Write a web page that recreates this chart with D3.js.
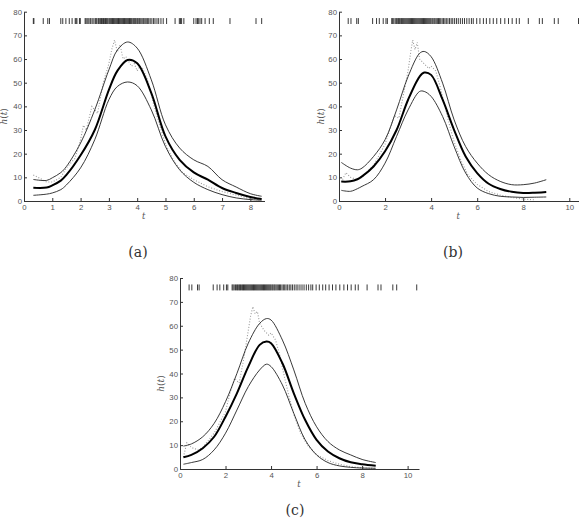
<!DOCTYPE html>
<html lang="en">
<head>
    <meta charset="UTF-8">
    <title>h(t)</title>
    <script src="https://d3js.org/d3.v7.min.js"></script>
    <style>
        body { margin: 0; background: #fff; }
        .tick text { font-family: "Liberation Sans", Arial, sans-serif; font-size: 7.8px; fill: #555; }
        .tick line, .domain { stroke: #333; }
    </style>
</head>
<body>

<svg width="579" height="527"></svg>

<script>

    // panel (a)
    var tA   = [0.33, 0.8, 1.0, 1.3, 1.5, 2.0, 2.5, 3.0, 3.3, 3.66, 4.0, 4.5, 5.0, 5.5, 6.0, 6.5, 7.0, 7.5, 8.0, 8.4];
    var midA = [5.6, 5.7, 6.6, 8.6, 11, 19.3, 30, 47, 55, 59.6, 58.2, 45.6, 27.3, 17.4, 12.1, 9, 5.5, 3.4, 1.7, 0.8];
    var upA  = [9.1, 8.7, 9.8, 12, 14.6, 24.5, 38.5, 55.4, 63.8, 67.2, 64.6, 51.2, 32.2, 22.4, 17.4, 14.6, 9, 5.9, 3.1, 2];
    var loA  = [2.4, 2.9, 3.4, 4.8, 6.8, 14, 25.9, 42.8, 48.4, 50.3, 48.7, 38.5, 23, 13.2, 7.9, 4.8, 2.7, 1.3, 0.6, 0.3];
    var rawTA = [0.33, 0.5, 0.8, 1.0, 1.3, 1.5, 1.8, 2.0, 2.1, 2.2, 2.4, 2.6, 2.8, 3.0, 3.1, 3.2, 3.3, 3.4, 3.5, 3.6, 3.8, 3.9, 4.0, 4.1, 4.2, 4.4, 4.6, 4.8, 5.0, 5.3, 5.6, 6.0, 6.5, 7.0, 7.5, 8.0, 8.4];
    var rawA  = [11, 10, 8, 8, 10, 14, 18, 26, 32, 30, 40, 37, 50, 58, 64, 68, 63, 66, 60, 61, 57, 58, 55, 57, 56, 50, 40, 32, 24, 17, 12, 9, 6, 4, 2.5, 1, 0.5];
    var rugA = [0.33, 0.35, 0.68, 0.84, 0.9, 1.30, 1.37, 1.48, 1.60, 1.70, 1.81, 1.84, 1.87, 1.96, 1.99,
        2.16, 2.19, 2.23, 2.27, 2.33, 2.36, 2.41, 2.47, 2.52, 2.55, 2.58, 2.63, 2.66, 2.70, 2.74, 2.77, 2.81,
        2.84, 2.88, 2.91, 2.94, 2.97, 3.01, 3.04, 3.07, 3.10, 3.13, 3.16, 3.19, 3.22, 3.25, 3.28, 3.31, 3.34,
        3.37, 3.40, 3.43, 3.46, 3.49, 3.52, 3.55, 3.58, 3.61, 3.64, 3.67, 3.70, 3.73, 3.76, 3.79, 3.82, 3.86,
        3.89, 3.92, 3.95, 3.99, 4.02, 4.06, 4.09, 4.13, 4.17, 4.21, 4.24, 4.28, 4.32, 4.37, 4.41, 4.46, 4.52,
        4.58, 4.63, 4.70, 4.76, 4.84, 4.92, 5.04, 5.34, 5.49, 5.53, 5.57, 5.65, 6.0, 6.08, 6.13, 6.16, 6.22,
        6.28, 6.4, 6.55, 6.69, 7.28, 8.2, 8.4];

    // panel (b)
    var tB   = [0.1, 0.5, 0.8, 1.0, 1.5, 2.0, 2.5, 3.0, 3.5, 3.7, 4.0, 4.5, 5.0, 5.5, 6.0, 6.5, 7.0, 7.5, 8.0, 8.5, 9.0];
    var midB = [8.2, 8.3, 9.2, 10.4, 14.6, 21, 30, 42.8, 52.6, 54.3, 53.3, 42.8, 30, 18.8, 11.8, 7.3, 5.1, 3.9, 3.4, 3.5, 3.8];
    var upB  = [16.3, 13.9, 13.2, 13.9, 18.8, 25.9, 38.5, 52.6, 62.4, 63.2, 61, 49.8, 34.3, 23, 16, 11.1, 8.3, 6.9, 6.9, 7.6, 9];
    var loB  = [4.5, 4.1, 5.2, 6.2, 9, 16, 27.3, 38.5, 46.3, 46.3, 44.2, 35.7, 23, 11.8, 5.5, 3.1, 2, 1.7, 1.5, 1.6, 1.7];
    var rawTB = [0.1, 0.3, 0.5, 0.8, 1.0, 1.5, 2.0, 2.2, 2.4, 2.6, 2.8, 3.0, 3.1, 3.2, 3.3, 3.4, 3.5, 3.7, 3.9, 4.0, 4.2, 4.4, 4.6, 4.8, 5.0, 5.3, 5.6, 6.0, 6.5, 7.0, 7.5, 8.0, 8.5];
    var rawB  = [8, 12, 10, 9, 10, 15, 24, 30, 36, 35, 45, 55, 62, 68, 64, 67, 60, 58, 56, 57, 55, 48, 40, 32, 25, 17, 11, 7, 4, 2.5, 1.5, 0.8, 0.5];

    // panel (c)
    var tC   = [0.15, 0.5, 1.0, 1.5, 2.0, 2.5, 3.0, 3.5, 3.8, 4.0, 4.5, 5.0, 5.5, 6.0, 6.5, 7.0, 7.5, 8.0, 8.6];
    var midC = [4.9, 5.9, 8.7, 13.5, 21.9, 31.7, 42.9, 52, 53.4, 52.7, 44.3, 31.7, 20.5, 12.2, 7.3, 4.5, 2.8, 2, 1.4];
    var upC  = [9.6, 10.5, 13.5, 19.1, 28.2, 40, 52.7, 61, 63, 62.4, 54, 41.5, 27.5, 17.7, 11.5, 8, 5.9, 4, 2.7];
    var loC  = [2, 2.7, 4, 8, 15, 24.7, 34.5, 41.5, 43.9, 42.9, 35.2, 23.3, 12.2, 5.9, 2.7, 1.3, 0.7, 0.4, 0.3];
    var rawTC = [0.15, 0.3, 0.5, 0.8, 1.0, 1.5, 2.0, 2.2, 2.4, 2.6, 2.8, 3.0, 3.1, 3.2, 3.3, 3.4, 3.5, 3.7, 3.9, 4.0, 4.2, 4.4, 4.6, 4.8, 5.0, 5.3, 5.6, 6.0, 6.5, 7.0, 7.5, 8.0, 8.6];
    var rawC  = [5, 11, 9, 8, 9, 15, 24, 32, 38, 36, 46, 58, 64, 68, 65, 66, 61, 58, 56, 57, 54, 47, 38, 30, 23, 15, 10, 6, 3.5, 2, 1, 0.5, 0.3];

    // event times shown as rug, panels (b) and (c)
    var rugBC = [0.4, 0.52, 0.77, 0.84, 1.46, 1.63, 1.75, 1.92, 2.04, 2.1, 2.29, 2.33, 2.38, 2.44, 2.49, 2.53,
        2.58, 2.62, 2.66, 2.71, 2.75, 2.79, 2.83, 2.87, 2.91, 2.95, 2.99, 3.03, 3.07, 3.11, 3.15, 3.19, 3.23,
        3.27, 3.31, 3.35, 3.39, 3.43, 3.47, 3.51, 3.55, 3.59, 3.63, 3.67, 3.71, 3.75, 3.79, 3.83, 3.87, 3.91,
        3.95, 3.99, 4.04, 4.08, 4.13, 4.17, 4.22, 4.27, 4.32, 4.37, 4.42, 4.48, 4.54, 4.6, 4.66, 4.73, 4.8,
        4.87, 4.94, 5.02, 5.1, 5.18, 5.27, 5.36, 5.45, 5.55, 5.65, 5.75, 5.83, 5.98, 6.12, 6.27, 6.4, 6.55,
        6.7, 6.85, 7.02, 7.2, 7.36, 7.52, 7.7, 7.83, 8.22, 8.7, 8.83, 9.35, 9.52, 10.4];

    var yTicks = [0, 10, 20, 30, 40, 50, 60, 70, 80];
    var xTicksA = [0, 1, 2, 3, 4, 5, 6, 7, 8];
    var xTicksBC = [0, 2, 4, 6, 8, 10];

    var svg = d3.select('svg');

    function panel(o) {
        var g = svg.append('g').attr('transform', 'translate(' + o.x + ',' + o.y + ')');
        var x = d3.scaleLinear().domain([0, o.xmax]).range([0, o.w]);
        var y = d3.scaleLinear().domain([0, 80]).range([o.h, 0]);

        // axes, ticks pointing inward
        g.append('g').attr('transform', 'translate(0,' + o.h + ')')
            .call(d3.axisBottom(x).tickValues(o.xticks).tickSizeInner(-3).tickSizeOuter(0).tickPadding(3));
        g.append('g')
            .call(d3.axisLeft(y).tickValues(yTicks).tickSizeInner(-3).tickSizeOuter(0).tickPadding(2));

        // rug of event times
        g.selectAll('line.rug').data(o.rug).enter().append('line')
            .attr('class', 'rug')
            .attr('x1', function (d) { return x(d); })
            .attr('x2', function (d) { return x(d); })
            .attr('y1', y(74.8)).attr('y2', y(77.3))
            .attr('stroke', '#222').attr('stroke-width', 0.9);

        var line = d3.line()
            .x(function (d) { return x(d[0]); })
            .y(function (d) { return y(d[1]); })
            .curve(d3.curveCatmullRom);

        var raw = d3.line()
            .x(function (d) { return x(d[0]); })
            .y(function (d) { return y(d[1]); });

        g.append('path').datum(d3.zip(o.rawT, o.raw)).attr('d', raw)
            .attr('fill', 'none').attr('stroke', '#999').attr('stroke-width', 1.1)
            .attr('stroke-dasharray', '1,1.8');
        g.append('path').datum(d3.zip(o.t, o.up)).attr('d', line)
            .attr('fill', 'none').attr('stroke', '#222').attr('stroke-width', 0.9);
        g.append('path').datum(d3.zip(o.t, o.lo)).attr('d', line)
            .attr('fill', 'none').attr('stroke', '#222').attr('stroke-width', 0.9);
        g.append('path').datum(d3.zip(o.t, o.mid)).attr('d', line)
            .attr('fill', 'none').attr('stroke', '#000').attr('stroke-width', 2);

        // axis titles
        g.append('text').attr('x', o.w / 2 - 0.5).attr('y', o.h + 18)
            .attr('text-anchor', 'middle')
            .style('font-family', '"DejaVu Serif", serif').style('font-style', 'italic')
            .style('font-size', '8.5px').style('fill', '#555').text('t');
        var ht = g.append('text')
            .attr('transform', 'translate(' + (o.ylab) + ',' + (o.h / 2 + 10) + ') rotate(-90)')
            .attr('text-anchor', 'middle')
            .style('font-family', '"DejaVu Serif", serif').style('font-size', '9px').style('fill', '#555');
        ht.append('tspan').style('font-style', 'italic').text('h');
        ht.append('tspan').text('(');
        ht.append('tspan').style('font-style', 'italic').text('t');
        ht.append('tspan').text(')');

        // caption
        svg.append('text').attr('x', o.cx).attr('y', o.cy)
            .attr('text-anchor', 'middle')
            .style('font-family', '"DejaVu Serif", serif').style('font-size', '14px').style('fill', '#333')
            .text(o.cap);
    }

    panel({x: 24, y: 11.7, w: 240.5, h: 189.3, xmax: 8.5, xticks: xTicksA,
        t: tA, mid: midA, up: upA, lo: loA, rawT: rawTA, raw: rawA, rug: rugA,
        ylab: -17, cx: 138, cy: 257, cap: '(a)'});
    panel({x: 339, y: 11.7, w: 239.5, h: 189.3, xmax: 10.4, xticks: xTicksBC,
        t: tB, mid: midB, up: upB, lo: loB, rawT: rawTB, raw: rawB, rug: rugBC,
        ylab: -15, cx: 453, cy: 257, cap: '(b)'});
    panel({x: 180, y: 278, w: 239, h: 191, xmax: 10.5, xticks: xTicksBC,
        t: tC, mid: midC, up: upC, lo: loC, rawT: rawTC, raw: rawC, rug: rugBC,
        ylab: -16, cx: 295, cy: 515, cap: '(c)'});

</script>
</body>
</html>
